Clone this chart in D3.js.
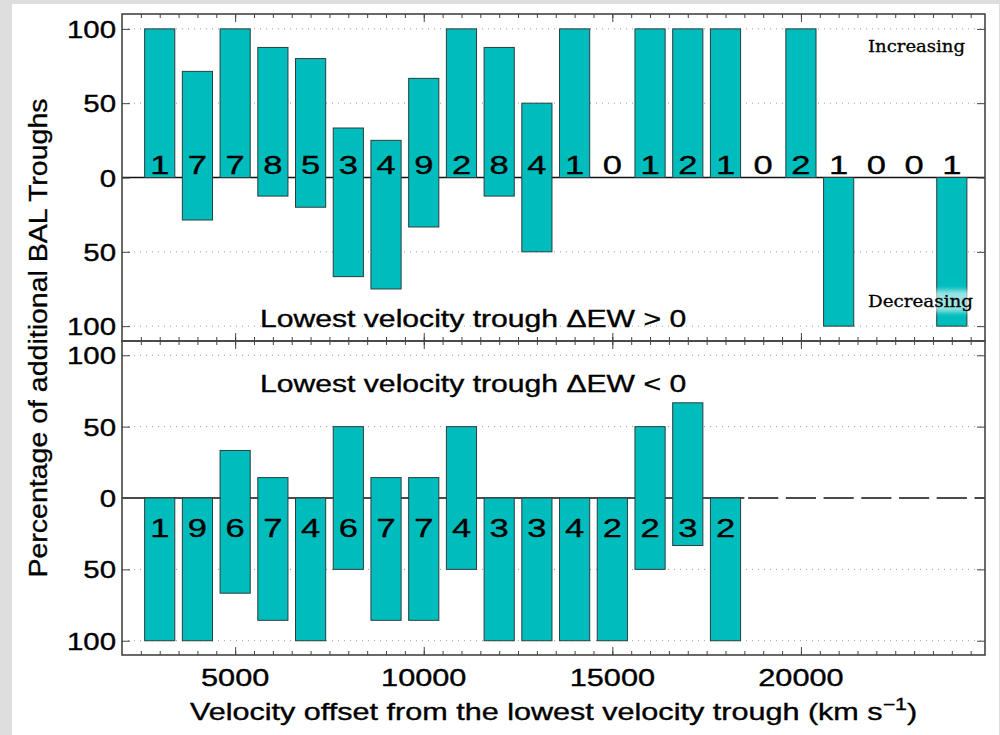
<!DOCTYPE html>
<html>
<head>
<meta charset="utf-8">
<script src="https://cdn.jsdelivr.net/npm/d3@7/dist/d3.min.js"></script>
<style>
  body { margin: 0; background: #dedede; }
  text { font-family: "Liberation Sans", Arial, Helvetica, sans-serif; fill: #000; stroke: #000; stroke-width: 0.35px; }
</style>
</head>
<body>
<svg id="chart" width="1000" height="735"></svg>
<script>
// bin centres (km/s), one bar per 1000 km/s bin
var binCenters = [3000, 4000, 5000, 6000, 7000, 8000, 9000, 10000, 11000, 12000, 13000,
                  14000, 15000, 16000, 17000, 18000, 19000, 20000, 21000, 22000, 23000, 24000];

// upper panel: lowest velocity trough dEW > 0
var upperCounts     = [1, 7, 7, 8, 5, 3, 4, 9, 2, 8, 4, 1, 0, 1, 2, 1, 0, 2, 1, 0, 0, 1];
var upperIncreasing = [100, 71.4, 100, 87.5, 80, 33.3, 25, 66.7, 100, 87.5, 50, 100, 0, 100, 100, 100, 0, 100, 0, 0, 0, 0];
var upperDecreasing = [0, 28.6, 0, 12.5, 20, 66.7, 75, 33.3, 0, 12.5, 50, 0, 0, 0, 0, 0, 0, 0, 100, 0, 0, 100];

// lower panel: lowest velocity trough dEW < 0
var lowerCounts     = [1, 9, 6, 7, 4, 6, 7, 7, 4, 3, 3, 4, 2, 2, 3, 2];
var lowerIncreasing = [0, 0, 33.3, 14.3, 0, 50, 14.3, 14.3, 50, 0, 0, 0, 0, 50, 66.7, 0];
var lowerDecreasing = [100, 100, 66.7, 85.7, 100, 50, 85.7, 85.7, 50, 100, 100, 100, 100, 50, 33.3, 100];

var xTicks = [5000, 10000, 15000, 20000];
var xMinorTicks = d3.range(2500, 25000, 500);
var yTicks = [-100, -50, 0, 50, 100];
var yTickLabels = ["100", "50", "0", "50", "100"];
var gridValues = [-100, -50, 50, 100];

var barWidth = 800;
var barFill = "#00bdbd";

var svg = d3.select("#chart");
svg.append("rect").attr("x", 0).attr("y", 0).attr("width", 1000).attr("height", 735).attr("fill", "#dedede");
svg.append("rect").attr("x", 12).attr("y", 4).attr("width", 987).attr("height", 731).attr("fill", "#fff");

var defs = svg.append("defs");
defs.append("filter").attr("id", "glow").attr("x", "-20%").attr("y", "-50%").attr("width", "140%").attr("height", "200%")
    .append("feGaussianBlur").attr("stdDeviation", 2.5);

var x = d3.scaleLinear().domain([2000, 24880]).range([122, 985]);

function wideText(g, px, py, str, size, anchor, sx) {
    return g.append("g")
        .attr("transform", "translate(" + px + "," + py + ") scale(" + (sx || 1.28) + ",1)")
      .append("text")
        .attr("text-anchor", anchor || "start")
        .style("font-size", size + "px")
        .text(str);
}

function drawPanel(top, bottom, inc, dec, counts, labelOffset, caption, captionY, fullZero) {
    var y = d3.scaleLinear().domain([-110, 110]).range([bottom, top]);
    var g = svg.append("g");
    var n = counts.length;

    // dotted grid
    g.selectAll(".grid").data(gridValues).enter().append("line")
        .attr("x1", x.range()[0]).attr("x2", x.range()[1])
        .attr("y1", function(d) { return y(d); }).attr("y2", function(d) { return y(d); })
        .attr("stroke", "#9a9a9a").attr("stroke-width", 1).attr("stroke-dasharray", "1,5");

    // zero line
    var zeroEnd = fullZero ? x.range()[1] : x(binCenters[n - 1] + 500);
    g.append("line")
        .attr("x1", x.range()[0]).attr("x2", zeroEnd)
        .attr("y1", y(0)).attr("y2", y(0))
        .attr("stroke", "#111").attr("stroke-width", 1.3);
    if (!fullZero) {
        g.append("line")
            .attr("x1", x(binCenters[n - 1] + 600)).attr("x2", x.range()[1])
            .attr("y1", y(0)).attr("y2", y(0))
            .attr("stroke", "#111").attr("stroke-width", 1.3)
            .attr("stroke-dasharray", (x(barWidth) - x(0)) + "," + (x(200) - x(0)));
    }

    // bars
    g.selectAll(".bar").data(d3.range(n)).enter().append("rect")
        .attr("x", function(i) { return x(binCenters[i] - barWidth / 2); })
        .attr("width", x(barWidth) - x(0))
        .attr("y", function(i) { return y(inc[i]); })
        .attr("height", function(i) { return y(-dec[i]) - y(inc[i]); })
        .attr("fill", barFill)
        .attr("stroke", "#2d3d3d").attr("stroke-width", 1);

    // counts
    d3.range(n).forEach(function(i) {
        wideText(g, x(binCenters[i]), y(0) + labelOffset, counts[i], 25, "middle", 1.38);
    });

    // ticks
    g.append("g").attr("transform", "translate(0," + top + ")")
        .call(d3.axisBottom(x).tickValues(xTicks).tickSize(8).tickFormat(""));
    g.append("g").attr("transform", "translate(0," + top + ")")
        .call(d3.axisBottom(x).tickValues(xMinorTicks).tickSize(4).tickFormat(""));
    g.append("g").attr("transform", "translate(0," + bottom + ")")
        .call(d3.axisTop(x).tickValues(xTicks).tickSize(8).tickFormat(""));
    g.append("g").attr("transform", "translate(0," + bottom + ")")
        .call(d3.axisTop(x).tickValues(xMinorTicks).tickSize(4).tickFormat(""));
    g.append("g").attr("transform", "translate(" + x.range()[0] + ",0)")
        .call(d3.axisRight(y).tickValues(yTicks).tickSize(8).tickFormat(""));
    g.append("g").attr("transform", "translate(" + x.range()[1] + ",0)")
        .call(d3.axisLeft(y).tickValues(yTicks).tickSize(8).tickFormat(""));
    g.selectAll(".domain").remove();
    g.selectAll(".tick line").attr("stroke", "#444").attr("stroke-width", 1);

    yTicks.forEach(function(v, i) {
        wideText(g, 116, y(v) + 9, yTickLabels[i], 23, "end");
    });

    // frame
    g.append("rect")
        .attr("x", x.range()[0]).attr("y", top)
        .attr("width", x.range()[1] - x.range()[0]).attr("height", bottom - top)
        .attr("fill", "none").attr("stroke", "#444").attr("stroke-width", 1.6);

    wideText(g, 260, captionY, caption, 23, "start", 1.31);
    return y;
}

drawPanel(14, 341, upperIncreasing, upperDecreasing, upperCounts, -4,
          "Lowest velocity trough \u0394EW > 0", 327, true);
drawPanel(341, 655, lowerIncreasing, lowerDecreasing, lowerCounts, 39,
          "Lowest velocity trough \u0394EW < 0", 392, false);

// Increasing / Decreasing notes
svg.append("text").attr("x", 868).attr("y", 52)
    .attr("textLength", 97).attr("lengthAdjust", "spacingAndGlyphs")
    .style("font-family", "'DejaVu Serif', serif").style("font-size", "16px")
    .style("stroke-width", "0.3px")
    .text("Increasing");
svg.append("rect").attr("x", 864).attr("y", 290).attr("width", 112).attr("height", 22)
    .attr("fill", "#fff").attr("opacity", 0.6).attr("filter", "url(#glow)");
svg.append("text").attr("x", 868).attr("y", 307)
    .attr("textLength", 105).attr("lengthAdjust", "spacingAndGlyphs")
    .style("font-family", "'DejaVu Serif', serif").style("font-size", "16px")
    .style("stroke-width", "0.3px")
    .text("Decreasing");

// x tick labels and titles
xTicks.forEach(function(v) {
    wideText(svg, x(v), 686, v, 24, "middle");
});
var xt = wideText(svg, (x.range()[0] + x.range()[1]) / 2, 720, "Velocity offset from the lowest velocity trough (km s", 23, "middle", 1.33);
xt.append("tspan").attr("dy", -10).style("font-size", "16px").text("\u22121");
xt.append("tspan").attr("dy", 10).text(")");

svg.append("text")
    .attr("transform", "translate(47,338) scale(0.9,1) rotate(-90)")
    .attr("text-anchor", "middle")
    .style("font-size", "28.5px")
    .text("Percentage of additional BAL Troughs");
</script>
</body>
</html>
